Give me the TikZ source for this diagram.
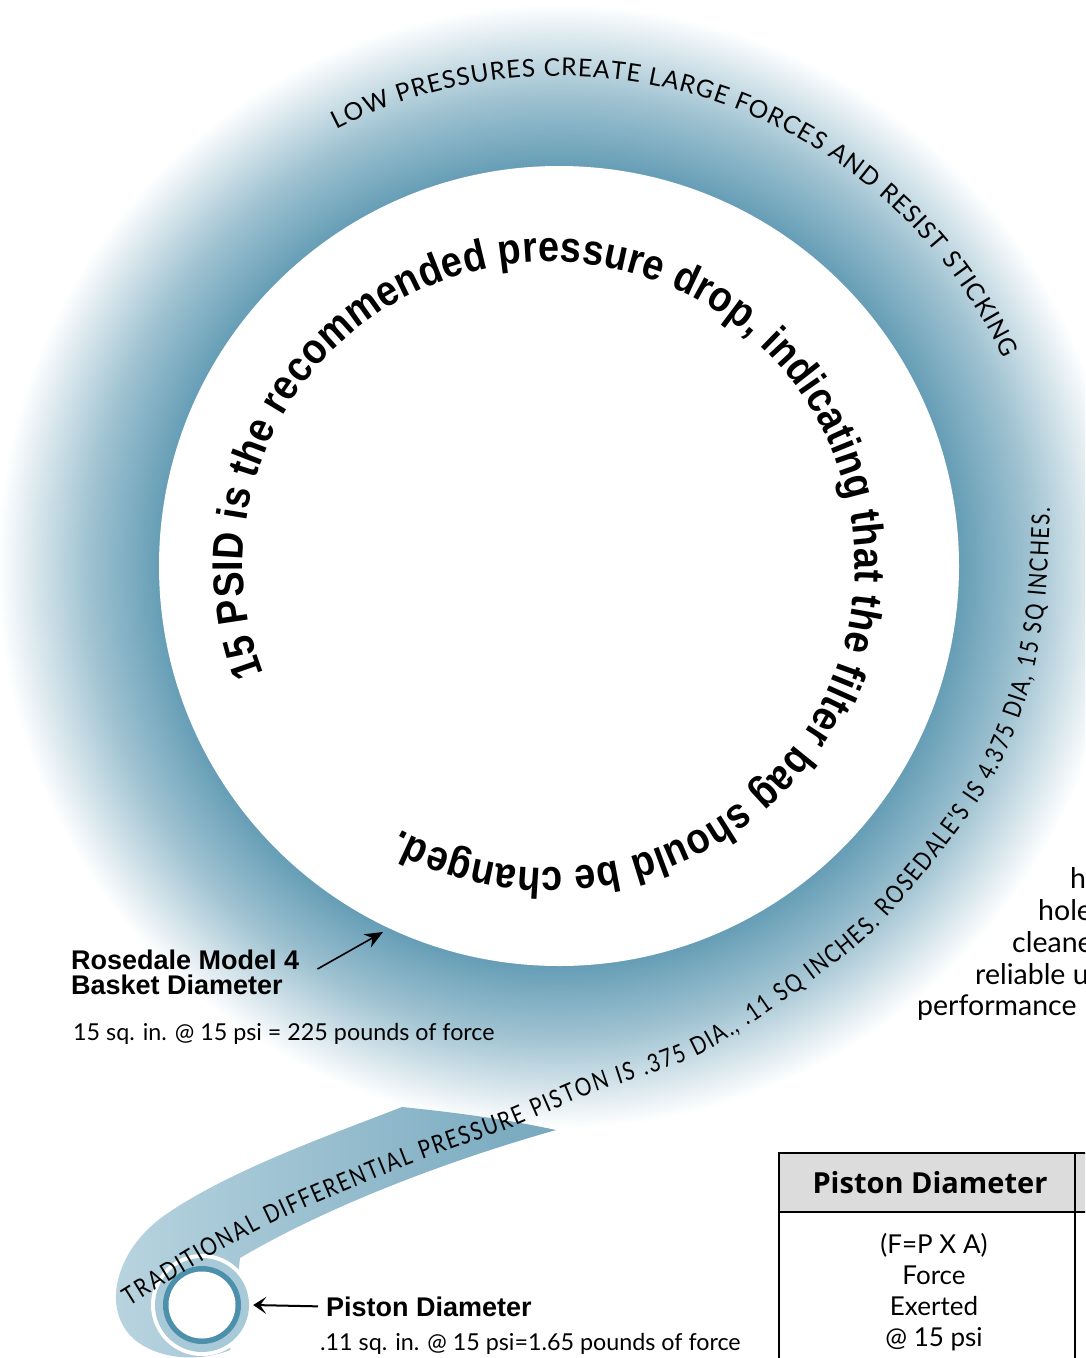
\documentclass[tikz,border=0pt]{standalone}
\usepackage{fontspec}
\setmainfont{Lato}
\newfontfamily\heavyfont{Liberation Sans}
\newfontfamily\ringfont[FakeStretch=0.88]{Liberation Sans}
\newfontfamily\spiralfont[FakeStretch=0.82]{Lato}
\newfontfamily\headfont{Open Sans}
\usetikzlibrary{decorations.text}
\usetikzlibrary{arrows.meta}
\usetikzlibrary{positioning}

\definecolor{ringdark}{RGB}{102,158,182}
\definecolor{taillight}{RGB}{186,213,224}
\definecolor{taildark}{RGB}{118,168,190}
\definecolor{pistonlight}{RGB}{168,202,216}
\definecolor{pistondark}{RGB}{76,144,171}
\definecolor{headgray}{RGB}{220,220,220}

\pgfdeclareradialshading{ringfade}{\pgfpoint{0bp}{0bp}}{color(0bp)=(ringdark); color(17.8bp)=(ringdark); color(21bp)=(ringdark!62!white); color(25bp)=(white); color(50bp)=(white)}

\begin{document}
\begin{tikzpicture}[x=1pt, y=-1pt,
            label/.style = {font=\heavyfont\bfseries\fontsize{27}{25}\selectfont,
                inner sep=0pt, align=left},
            note/.style = {font=\fontsize{23.3}{27}\selectfont, inner sep=0pt},
            blurb/.style = {font=\fontsize{28.5}{32}\selectfont, inner sep=0pt},
            head/.style = {font=\headfont\bfseries\fontsize{29}{34}\selectfont, inner sep=0pt},
            body/.style = {font=\fontsize{26}{31}\selectfont, inner sep=0pt, align=center},
            pointer/.style = {-{Stealth[length=18pt,width=15pt]}, line width=1.6pt},
            barb/.style = {-{Stealth[length=13pt,width=17pt,inset=6pt]}, line width=2pt},
            tailfill/.style = {left color=taillight, right color=taildark},
            rule/.style = {line width=1.3pt}]
            \useasboundingbox (0,0) rectangle (1085,1358);
            \clip (0,0) rectangle (1085,1358);
            \shade[shading=ringfade] (559,566) circle[radius=562];
            \shade[tailfill] (402,1107) .. controls (330,1135) and (230,1170) .. (165,1215)
                .. controls (115,1250) and (100,1310) .. (135,1340)
                .. controls (160,1360) and (200,1362) .. (230,1350) -- (240,1258)
                .. controls (330,1205) and (450,1160) .. (556,1130)
                .. controls (500,1118) and (450,1112) .. (402,1107) -- cycle;
            \fill[white] (559,566) circle[radius=400];
            \node[circle, fill=white, minimum size=102pt, inner sep=0pt] (piston) at (202,1305) {};
            \fill[pistonlight] (piston) circle[radius=47];
            \fill[pistondark] (piston) circle[radius=39];
            \fill[white] (piston) circle[radius=33.5];
            \path[decorate, decoration={text along path, text align={fit to path},
                text={|\fontsize{24.5}{28}\selectfont|LOW PRESSURES CREATE LARGE FORCES AND RESIST STICKING}}]
                (559,566) ++(-117:490) arc[start angle=-117, end angle=-25, radius=490];
            \path[decorate, decoration={text along path, text align={fit to path},
                text={|\ringfont\bfseries\fontsize{43}{46}\selectfont|15 PSID is the recommended pressure drop, indicating that the filter bag should be changed.}}]
                (549,565) ++(159:306 and 303) arc[start angle=159, end angle=479, x radius=306, y radius=303];
            \path[decorate, decoration={text along path, text align={fit to path},
                text={|\spiralfont\fontsize{25}{29}\selectfont|TRADITIONAL DIFFERENTIAL PRESSURE PISTON IS .375 DIA., .11 SQ INCHES. ROSEDALE'S IS 4.375 DIA, 15 SQ INCHES.}}]
                plot[smooth] coordinates {(130,1306) (258,1230) (400,1168) (505,1130) (590,1094) (712,1048)
                    (858,945) (935,860) (995,775) (1030,685) (1045,600) (1050,508)};
            \node[label, anchor=north west] (basket) at (71,950) {Rosedale Model 4\\Basket Diameter};
            \coordinate (basketrim) at (383,932);
            \draw[pointer] ([shift={(18,19)}]basket.north east) -- (basketrim);
            \node[note, anchor=base west] (basketnote) at (73,1040) {15 sq. in. @ 15 psi = 225 pounds of force};
            \node[label, anchor=base west] (pistonlbl) at (326,1316) {Piston Diameter};
            \draw[barb] ([xshift=-8pt]pistonlbl.west) -- (piston.east);
            \node[note, anchor=base west] (pistonnote) at (320,1350) {.11 sq. in. @ 15 psi=1.65 pounds of force};
            \foreach \bx/\by/\bt [count=\i] in {1070/888/h, 1038/920/hole, 1012/952/cleane,
                975/984/reliable u, 917/1015/performance}
                \node[blurb, anchor=base west] (blurb\i) at (\bx,\by) {\bt};
            \fill[headgray] (779,1153) rectangle (1090,1212);
            \draw[rule] (1090,1153) -- (779,1153) -- (779,1365);
            \draw[rule] (779,1212) -- (1090,1212);
            \draw[rule] (1075,1153) -- (1075,1365);
            \node[head] (pistonhead) at (930,1183) {Piston Diameter};
            \node[body, anchor=north] (pistonbody) at (934,1233) {(F=P X A)\\Force\\Exerted\\@ 15 psi};
        \end{tikzpicture}
\end{document}
